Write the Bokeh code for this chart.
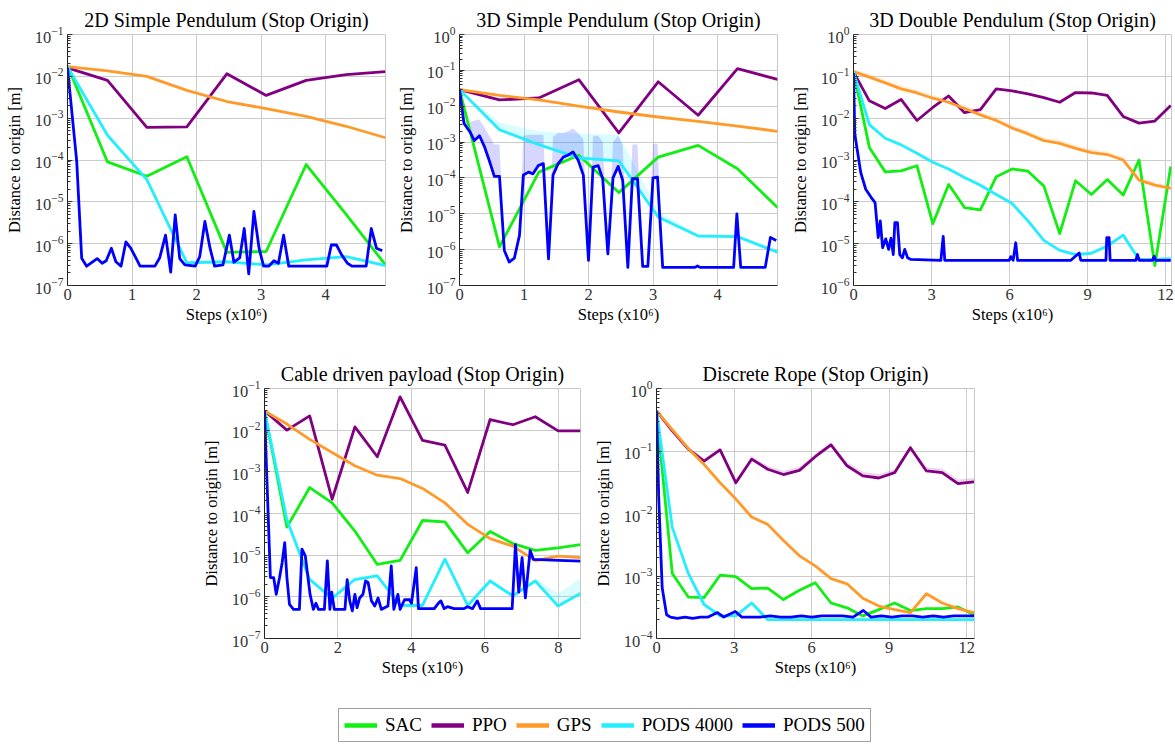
from bokeh.plotting import figure
from bokeh.models import Range1d, FixedTicker, Legend, LegendItem, Spacer
from bokeh.layouts import column, row
from bokeh.embed import file_html
from bokeh.resources import INLINE

FONT = "Liberation Serif"
SERIES = ["SAC", "PPO", "GPS", "PODS 4000", "PODS 500"]
COLORS = {"SAC": "#11ee11", "PPO": "#800080", "GPS": "#ff9a2a",
          "PODS 4000": "#22eeff", "PODS 500": "#0000ff"}

# ---------------- Panel 1: 2D Simple Pendulum ----------------
p1_steps = [0.0, 0.62, 1.23, 1.85, 2.47, 3.08, 3.70, 4.32, 4.93]
p1_sac = [1.8e-2, 9.0e-5, 4.1e-5, 1.2e-4, 6.2e-7, 6.5e-7, 7.8e-5, 5.0e-6, 3.1e-7]
p1_ppo = [1.6e-2, 8.0e-3, 6.0e-4, 6.2e-4, 1.15e-2, 3.5e-3, 8.0e-3, 1.1e-2, 1.3e-2]
p1_gps = [1.7e-2, 1.35e-2, 1.0e-2, 4.6e-3, 2.5e-3, 1.7e-3, 1.1e-3, 6.4e-4, 3.4e-4]
p1_pods4000 = [1.7e-2, 3.9e-4, 3.4e-5, 3.5e-7, 3.7e-7, 3.1e-7, 4.1e-7, 4.9e-7, 3.0e-7]
p1_pods500_steps = [0, 0.143, 0.22, 0.297, 0.46, 0.537, 0.60, 0.68, 0.75, 0.83,
                    0.905, 0.98, 1.05, 1.125, 1.355, 1.43, 1.52, 1.60, 1.67, 1.74,
                    1.82, 1.98, 2.05, 2.13, 2.21, 2.28, 2.41, 2.51, 2.58, 2.67,
                    2.74, 2.81, 2.89, 2.97, 3.04, 3.12, 3.20, 3.27, 3.35, 3.43,
                    4.02, 4.09, 4.17, 4.25, 4.34, 4.41, 4.63, 4.71, 4.79, 4.88]
p1_pods500 = [1.6e-2, 9.3e-5, 4.5e-7, 2.9e-7, 4.4e-7, 3.4e-7, 3.9e-7, 7.8e-7, 3.7e-7, 2.9e-7,
              1.1e-6, 7.8e-7, 4.9e-7, 2.9e-7, 2.9e-7, 4.6e-7, 1.6e-6, 2.1e-7, 4.9e-6, 4.4e-7,
              3.1e-7, 2.9e-7, 4.9e-7, 3.4e-6, 7.8e-7, 2.9e-7, 3.1e-7, 1.6e-6, 3.6e-7, 4.6e-7,
              2.3e-6, 1.9e-7, 5.9e-6, 7.8e-7, 2.9e-7, 2.9e-7, 3.9e-7, 3.4e-7, 1.6e-6, 2.9e-7,
              2.9e-7, 9.3e-7, 9.3e-7, 5.4e-7, 3.4e-7, 2.9e-7, 2.9e-7, 2.3e-6, 7.8e-7, 6.8e-7]

# ---------------- Panel 2: 3D Simple Pendulum ----------------
p2_steps = [0.0, 0.62, 1.23, 1.85, 2.47, 3.08, 3.70, 4.31, 4.93]
p2_sac = [2.9e-2, 1.2e-6, 1.45e-4, 4.3e-4, 3.9e-5, 3.8e-4, 8.1e-4, 1.8e-4, 1.5e-5]
p2_ppo = [2.9e-2, 1.5e-2, 1.7e-2, 5.5e-2, 1.8e-3, 4.8e-2, 5.6e-3, 1.12e-1, 5.6e-2]
p2_gps = [2.9e-2, 2.0e-2, 1.5e-2, 1.0e-2, 6.9e-3, 5.0e-3, 3.8e-3, 2.8e-3, 2.0e-3]
p2_pods4000 = [2.9e-2, 2.2e-3, 8.5e-4, 3.6e-4, 3.0e-4, 8.1e-6, 2.4e-6, 2.3e-6, 8.5e-7]
p2_pods4000_upper = [2.9e-2, 3.5e-3, 2.0e-3, 1.7e-3, 1.6e-3, 1.2e-5, 2.6e-6, 2.5e-6, 1.0e-6]
p2_pods500_steps = [0, 0.07, 0.165, 0.23, 0.31, 0.39, 0.46, 0.54, 0.62, 0.695,
                    0.77, 0.85, 0.93, 0.99, 1.07, 1.14, 1.22, 1.30, 1.38, 1.45,
                    1.53, 1.61, 1.68, 1.76, 1.84, 1.92, 2.0, 2.07, 2.15, 2.22,
                    2.30, 2.38, 2.46, 2.53, 2.61, 2.68, 2.76, 2.84, 2.92, 3.0,
                    3.07, 3.15, 3.65, 3.69, 3.73, 4.25, 4.30, 4.36, 4.74, 4.82, 4.91]
p2_pods500 = [2.9e-2, 3.3e-3, 1.9e-3, 1.1e-3, 1.5e-3, 7.2e-4, 3.1e-4, 1.1e-4, 1.1e-4, 9.5e-7,
              4.5e-7, 5.8e-7, 2.5e-6, 1.2e-4, 1.45e-4, 1.3e-4, 2.2e-4, 2.5e-4, 5.5e-7, 1.2e-4,
              2.5e-4, 3.8e-4, 4.3e-4, 5.3e-4, 3.1e-4, 1.2e-4, 5.0e-7, 2.0e-4, 2.2e-4, 9.5e-5,
              7.6e-7, 1.0e-4, 2.1e-4, 8.6e-5, 3.2e-7, 9.5e-5, 9.5e-5, 3.4e-7, 3.4e-7, 1.0e-4,
              1.05e-4, 3.2e-7, 3.2e-7, 3.5e-7, 3.2e-7, 3.2e-7, 1.0e-5, 3.2e-7, 3.2e-7, 2.2e-6, 1.8e-6]
p2_pods500_upper = [2.9e-2, 4.0e-3, 3.5e-3, 4.0e-3, 4.2e-3, 2.5e-3, 1.5e-3, 8.5e-4, 8.5e-4, 9.5e-7,
                    4.5e-7, 5.8e-7, 2.5e-6, 1.5e-3, 1.6e-3, 1.6e-3, 1.6e-3, 1.6e-3, 5.5e-7, 1.4e-3,
                    1.8e-3, 1.8e-3, 2.0e-3, 2.4e-3, 1.8e-3, 1.2e-3, 5.0e-7, 1.5e-3, 1.5e-3, 1.0e-3,
                    7.6e-7, 1.0e-3, 1.5e-3, 8.0e-4, 3.2e-7, 8.5e-4, 8.5e-4, 3.4e-7, 3.4e-7, 9.0e-4,
                    9.0e-4, 3.2e-7, 3.2e-7, 3.5e-7, 3.2e-7, 3.2e-7, 1.0e-5, 3.2e-7, 3.2e-7, 2.2e-6, 1.8e-6]

# ---------------- Panel 3: 3D Double Pendulum ----------------
p3_steps = [0.0, 0.61, 1.22, 1.83, 2.44, 3.05, 3.66, 4.27, 4.88, 5.49, 6.10,
            6.71, 7.32, 7.93, 8.54, 9.15, 9.76, 10.37, 10.98, 11.59, 12.20]
p3_sac = [1.3e-1, 2.0e-3, 5.2e-4, 5.5e-4, 7.3e-4, 3.0e-5, 2.6e-4, 7.3e-5, 6.4e-5, 4.0e-4, 6.1e-4,
          5.4e-4, 2.4e-4, 1.74e-5, 3.2e-4, 1.5e-4, 3.4e-4, 1.45e-4, 1.0e-3, 3.0e-6, 7.0e-4]
p3_ppo = [1.27e-1, 2.6e-2, 1.7e-2, 2.8e-2, 8.8e-3, 1.8e-2, 3.4e-2, 1.35e-2, 1.6e-2, 5.0e-2, 4.5e-2,
          3.8e-2, 3.1e-2, 2.4e-2, 4.1e-2, 4.0e-2, 3.5e-2, 1.1e-2, 7.6e-3, 8.5e-3, 2.0e-2]
p3_gps = [1.3e-1, 9.6e-2, 7.0e-2, 5.0e-2, 4.0e-2, 3.0e-2, 2.4e-2, 1.7e-2, 1.2e-2, 8.8e-3, 5.8e-3,
          4.2e-3, 2.9e-3, 2.5e-3, 1.9e-3, 1.5e-3, 1.35e-3, 1.0e-3, 3.3e-4, 2.5e-4, 2.1e-4]
p3_gps_upper = [1.5e-1, 1.15e-1, 8.4e-2, 6.0e-2, 4.8e-2, 3.6e-2, 2.9e-2, 2.0e-2, 1.45e-2, 1.06e-2, 7.0e-3,
                5.0e-3, 3.5e-3, 3.0e-3, 2.3e-3, 1.8e-3, 1.6e-3, 1.2e-3, 4.0e-4, 3.0e-4, 2.4e-4]
p3_pods4000 = [1.3e-1, 7.0e-3, 3.3e-3, 2.3e-3, 1.45e-3, 8.8e-4, 6.1e-4, 3.8e-4, 2.5e-4, 1.5e-4, 9.1e-5,
               3.5e-5, 1.2e-5, 6.9e-6, 5.5e-6, 5.9e-6, 8.8e-6, 1.6e-5, 4.2e-6, 4.2e-6, 4.4e-6]
p3_pods500_steps = [0, 0.05, 0.28, 0.47, 0.67, 0.83, 0.95, 1.03, 1.12, 1.24,
                    1.35, 1.44, 1.53, 1.59, 1.69, 1.78, 1.88, 1.97, 2.08, 2.21,
                    3.36, 3.45, 3.51, 5.99, 6.05, 6.14, 6.24, 6.31, 8.36, 8.68,
                    8.74, 9.71, 9.74, 9.83, 9.87, 10.86, 10.92, 10.99, 11.50, 11.56,
                    11.63, 12.20]
p3_pods500 = [1.2e-1, 4.2e-3, 5.0e-4, 2.0e-4, 1.3e-4, 9.6e-5, 1.4e-5, 3.5e-5, 8.0e-6, 1.3e-5,
              7.3e-6, 1.35e-5, 5.5e-6, 3.2e-5, 3.2e-5, 5.5e-6, 4.6e-6, 7.3e-6, 4.6e-6, 4.2e-6,
              4.0e-6, 1.5e-5, 4.0e-6, 4.0e-6, 4.9e-6, 4.0e-6, 1.05e-5, 4.0e-6, 4.0e-6, 6.0e-6,
              4.0e-6, 4.0e-6, 1.4e-5, 1.4e-5, 4.0e-6, 4.0e-6, 5.5e-6, 4.0e-6, 4.0e-6, 5.0e-6,
              4.0e-6, 4.0e-6]

# ---------------- Panel 4: Cable driven payload ----------------
p4_steps = [0.0, 0.61, 1.23, 1.84, 2.46, 3.07, 3.69, 4.30, 4.91, 5.53, 6.14, 6.76, 7.37, 7.99, 8.60]
p4_sac = [2.9e-2, 4.7e-5, 4.2e-4, 1.8e-4, 3.8e-5, 6.0e-6, 7.5e-6, 6.8e-5, 6.3e-5, 1.14e-5,
          3.7e-5, 1.9e-5, 1.3e-5, 1.5e-5, 1.8e-5]
p4_ppo = [2.9e-2, 1.0e-2, 2.2e-2, 2.2e-4, 1.2e-2, 2.3e-3, 6.3e-2, 5.7e-3, 4.4e-3, 3.2e-4,
          1.8e-2, 1.35e-2, 2.1e-2, 9.6e-3, 9.6e-3]
p4_gps = [2.9e-2, 1.4e-2, 6.0e-3, 2.9e-3, 1.4e-3, 8.3e-4, 6.9e-4, 4.0e-4, 1.8e-4, 5.5e-5,
          2.5e-5, 1.65e-5, 7.4e-6, 9.5e-6, 8.7e-6]
p4_pods4000 = [2.9e-2, 7.0e-5, 2.6e-6, 9.2e-7, 2.6e-6, 3.2e-6, 6.2e-7, 6.2e-7, 8.0e-6, 6.2e-7,
               2.4e-6, 1.05e-6, 2.4e-6, 6.0e-7, 1.2e-6]
p4_pods4000_upper = [2.9e-2, 8.0e-5, 3.0e-6, 1.1e-6, 3.0e-6, 3.6e-6, 7.0e-7, 7.0e-7, 9.0e-6, 7.0e-7,
                     2.7e-6, 1.2e-6, 2.7e-6, 1.2e-6, 2.8e-6]
p4_pods500_steps = [0, 0.16, 0.25, 0.32, 0.41, 0.48, 0.55, 0.61, 0.68, 0.79,
                    0.95, 1.02, 1.11, 1.24, 1.33, 1.40, 1.47, 1.63, 1.71, 1.78,
                    1.83, 1.90, 2.19, 2.25, 2.32, 2.39, 2.46, 2.52, 2.59, 2.68,
                    2.75, 2.82, 2.91, 3.00, 3.09, 3.18, 3.36, 3.45, 3.52, 3.63,
                    3.69, 3.81, 3.95, 4.00, 4.13, 4.19, 4.62, 4.73, 4.80, 4.89,
                    4.98, 5.16, 5.43, 5.52, 5.66, 5.79, 5.88, 6.74, 6.83, 6.92,
                    7.01, 7.10, 7.23, 7.32, 8.00, 8.60]
p4_pods500 = [2.9e-2, 2.9e-6, 2.9e-6, 1.15e-6, 2.9e-6, 6.6e-6, 2.0e-5, 2.9e-6, 6.6e-7, 5.0e-7,
              5.0e-7, 1.4e-5, 9.6e-6, 1.15e-6, 5.0e-7, 7.0e-7, 5.0e-7, 5.0e-7, 7.3e-6, 5.0e-7,
              1.3e-6, 5.0e-7, 5.0e-7, 2.6e-6, 8.0e-7, 4.6e-7, 1.15e-6, 5.5e-7, 9.4e-7, 1.15e-6,
              2.4e-6, 2.2e-6, 8.0e-7, 6.0e-7, 9.4e-7, 5.0e-7, 6.0e-7, 5.5e-6, 5.0e-7, 1.15e-6,
              5.0e-7, 8.5e-7, 8.5e-7, 7.0e-7, 5.0e-6, 5.2e-7, 5.2e-7, 7.0e-7, 8.0e-7, 5.2e-7,
              5.8e-7, 5.2e-7, 5.2e-7, 5.8e-7, 5.2e-7, 8.0e-7, 5.2e-7, 5.2e-7, 1.8e-5, 1.3e-6,
              8.7e-6, 9.4e-7, 1.3e-5, 7.9e-6, 7.5e-6, 7.2e-6]

# ---------------- Panel 5: Discrete Rope ----------------
p5_steps = [0.0, 0.61, 1.23, 1.84, 2.46, 3.07, 3.68, 4.30, 4.91, 5.53, 6.14,
            6.75, 7.37, 7.98, 8.60, 9.21, 9.82, 10.44, 11.05, 11.66, 12.28]
p5_sac = [4.4e-1, 1.1e-3, 4.6e-4, 4.5e-4, 1.03e-3, 9.8e-4, 6.3e-4, 6.4e-4, 4.2e-4, 5.9e-4, 7.8e-4,
          3.7e-4, 3.1e-4, 2.3e-4, 2.9e-4, 3.7e-4, 2.8e-4, 3.0e-4, 3.0e-4, 3.2e-4, 2.4e-4]
p5_ppo = [4.4e-1, 2.1e-1, 1.07e-1, 6.9e-2, 1.04e-1, 3.1e-2, 7.4e-2, 5.1e-2, 4.2e-2, 4.9e-2, 8.1e-2,
          1.25e-1, 5.8e-2, 4.0e-2, 3.7e-2, 4.5e-2, 1.13e-1, 4.8e-2, 4.5e-2, 3.0e-2, 3.2e-2]
p5_ppo_upper = [4.8e-1, 2.3e-1, 1.17e-1, 7.6e-2, 1.13e-1, 3.5e-2, 8.3e-2, 5.8e-2, 4.8e-2, 5.6e-2, 9.0e-2,
                1.38e-1, 6.6e-2, 4.6e-2, 4.3e-2, 5.1e-2, 1.24e-1, 5.5e-2, 5.2e-2, 3.5e-2, 3.7e-2]
p5_gps = [4.4e-1, 2.2e-1, 1.1e-1, 6.1e-2, 3.1e-2, 1.7e-2, 8.8e-3, 6.7e-3, 3.7e-3, 2.1e-3, 1.45e-3,
          9.1e-4, 7.5e-4, 4.4e-4, 3.3e-4, 2.9e-4, 2.6e-4, 5.2e-4, 3.7e-4, 3.0e-4, 2.6e-4]
p5_pods4000 = [4.4e-1, 6.0e-3, 1.1e-3, 3.5e-4, 2.3e-4, 2.3e-4, 3.7e-4, 2.0e-4, 2.0e-4, 2.0e-4, 2.0e-4,
               2.0e-4, 2.0e-4, 2.0e-4, 2.0e-4, 2.0e-4, 2.0e-4, 2.0e-4, 2.0e-4, 2.0e-4, 2.0e-4]
p5_pods500_steps = [0, 0.09, 0.22, 0.39, 0.54, 0.80, 1.1, 1.4, 1.7, 2.0,
                    2.36, 2.6, 3.05, 3.3, 3.7, 4.0, 4.4, 4.8, 5.2, 5.6,
                    6.0, 6.4, 6.8, 7.2, 7.6, 8.0, 8.3, 8.7, 9.1, 9.5,
                    9.9, 10.3, 10.7, 11.1, 11.5, 11.9, 12.28]
p5_pods500 = [4.4e-1, 1.6e-2, 6.5e-4, 2.4e-4, 2.2e-4, 2.1e-4, 2.2e-4, 2.1e-4, 2.2e-4, 2.2e-4,
              2.6e-4, 2.2e-4, 2.7e-4, 2.2e-4, 2.2e-4, 2.2e-4, 2.3e-4, 2.2e-4, 2.2e-4, 2.3e-4,
              2.2e-4, 2.3e-4, 2.3e-4, 2.3e-4, 2.2e-4, 2.8e-4, 2.2e-4, 2.3e-4, 2.2e-4, 2.3e-4,
              2.3e-4, 2.2e-4, 2.3e-4, 2.2e-4, 2.3e-4, 2.3e-4, 2.3e-4]

XLABEL = "Steps (x10\u2076)"
YLABEL = "Distance to origin [m]"


def make_panel(title, xmax, xticks, ylo, yhi, width, left, height, top, frame_h,
               curves, bands=()):
    frame_w = 318
    p = figure(width=width, height=height, title=title,
               x_range=Range1d(0, xmax), y_range=Range1d(10.0 ** ylo, 10.0 ** yhi),
               y_axis_type="log", output_backend="svg", toolbar_location=None,
               min_border_left=left, min_border_right=width - left - frame_w,
               min_border_top=top, min_border_bottom=height - top - frame_h,
               outline_line_color="#c8c8c8", outline_line_width=1)
    p.title.text_font = FONT
    p.title.text_font_size = "20px"
    p.title.text_font_style = "normal"
    p.title.text_color = "black"
    p.title.align = "center"
    p.title.standoff = 7

    major = [10.0 ** e for e in range(ylo, yhi + 1)]
    minor = [m * 10.0 ** e for e in range(ylo, yhi) for m in range(2, 10)]
    yt = FixedTicker(ticks=major, minor_ticks=minor)
    xt = FixedTicker(ticks=xticks, minor_ticks=[])
    p.yaxis.ticker = yt
    p.ygrid.ticker = yt
    p.xaxis.ticker = xt
    p.xgrid.ticker = xt
    p.grid.grid_line_color = "#cccccc"
    p.grid.grid_line_width = 1

    for ax in (p.xaxis, p.yaxis):
        ax.axis_line_color = "#222222"
        ax.axis_line_width = 1
        ax.major_label_text_font = FONT
        ax.major_label_text_font_size = "16.5px"
        ax.major_label_text_color = "#333333"
        ax.axis_label_text_font = FONT
        ax.axis_label_text_font_size = "16.5px"
        ax.axis_label_text_font_style = "normal"
        ax.axis_label_text_color = "black"
    p.yaxis.axis_label = YLABEL
    p.xaxis.axis_label = XLABEL
    p.yaxis.major_tick_in = 5
    p.yaxis.major_tick_out = 0
    p.yaxis.minor_tick_in = 3
    p.yaxis.minor_tick_out = 0
    p.yaxis.major_tick_line_color = "#333333"
    p.yaxis.minor_tick_line_color = "#333333"
    p.yaxis.major_label_standoff = 4
    p.yaxis.axis_label_standoff = 8
    p.xaxis.major_tick_in = 0
    p.xaxis.major_tick_out = 0
    p.xaxis.minor_tick_in = 0
    p.xaxis.minor_tick_out = 0
    p.xaxis.major_label_standoff = 3
    p.xaxis.axis_label_standoff = 2

    for bx, blo, bhi, name in bands:
        p.varea(x=bx, y1=blo, y2=bhi, fill_color=COLORS[name], fill_alpha=0.16)
    for name in SERIES:
        x, y = curves[name]
        p.line(x, y, line_color=COLORS[name], line_width=2.8, line_join="round")
    return p


# Top row: widths 390 / 393 / 391, frames start at x = 67, 459, 853
f1 = make_panel("2D Simple Pendulum (Stop Origin)", 4.93, [0, 1, 2, 3, 4], -7, -1,
                390, 67, 350, 34, 251,
                {"SAC": (p1_steps, p1_sac), "PPO": (p1_steps, p1_ppo), "GPS": (p1_steps, p1_gps),
                 "PODS 4000": (p1_steps, p1_pods4000), "PODS 500": (p1_pods500_steps, p1_pods500)})
f2 = make_panel("3D Simple Pendulum (Stop Origin)", 4.93, [0, 1, 2, 3, 4], -7, 0,
                393, 69, 350, 34, 251,
                {"SAC": (p2_steps, p2_sac), "PPO": (p2_steps, p2_ppo), "GPS": (p2_steps, p2_gps),
                 "PODS 4000": (p2_steps, p2_pods4000), "PODS 500": (p2_pods500_steps, p2_pods500)},
                bands=[(p2_steps, p2_pods4000, p2_pods4000_upper, "PODS 4000"),
                       (p2_pods500_steps, p2_pods500, p2_pods500_upper, "PODS 500")])
f3 = make_panel("3D Double Pendulum (Stop Origin)", 12.23, [0, 3, 6, 9, 12], -6, 0,
                391, 70, 350, 34, 251,
                {"SAC": (p3_steps, p3_sac), "PPO": (p3_steps, p3_ppo), "GPS": (p3_steps, p3_gps),
                 "PODS 4000": (p3_steps, p3_pods4000), "PODS 500": (p3_pods500_steps, p3_pods500)},
                bands=[(p3_steps, p3_gps, p3_gps_upper, "GPS")])
# Bottom row: spacer 198, frames start at x = 262, 656
f4 = make_panel("Cable driven payload (Stop Origin)", 8.6, [0, 2, 4, 6, 8], -7, -1,
                390, 64, 350, 38, 250,
                {"SAC": (p4_steps, p4_sac), "PPO": (p4_steps, p4_ppo), "GPS": (p4_steps, p4_gps),
                 "PODS 4000": (p4_steps, p4_pods4000), "PODS 500": (p4_pods500_steps, p4_pods500)},
                bands=[(p4_steps, p4_pods4000, p4_pods4000_upper, "PODS 4000")])
f5 = make_panel("Discrete Rope (Stop Origin)", 12.3, [0, 3, 6, 9, 12], -4, 0,
                394, 68, 350, 38, 250,
                {"SAC": (p5_steps, p5_sac), "PPO": (p5_steps, p5_ppo), "GPS": (p5_steps, p5_gps),
                 "PODS 4000": (p5_steps, p5_pods4000), "PODS 500": (p5_pods500_steps, p5_pods500)},
                bands=[(p5_steps, p5_ppo, p5_ppo_upper, "PPO")])

# ---------------- legend strip ----------------
leg = figure(width=900, height=43, x_range=Range1d(0, 1), y_range=Range1d(0, 1),
             output_backend="svg", toolbar_location=None, min_border=0,
             x_axis_location=None, y_axis_location=None, outline_line_color=None)
leg.grid.visible = False
items = []
for name in SERIES:
    r = leg.line(x=[-3, -2], y=[-3, -2], line_color=COLORS[name], line_width=4.5)
    items.append(LegendItem(label=name, renderers=[r]))
legend = Legend(items=items, orientation="horizontal", location=(338, 1),
                label_text_font=FONT, label_text_font_size="19px", label_text_color="black",
                glyph_width=33, glyph_height=20, label_standoff=8, spacing=9,
                padding=5, margin=0, border_line_color="#444444", border_line_width=1,
                background_fill_alpha=1.0)
leg.add_layout(legend)

layout = column(row(f1, f2, f3), row(Spacer(width=198, height=350), f4, f5), leg)

open("out.html", "w").write(file_html(layout, INLINE))
